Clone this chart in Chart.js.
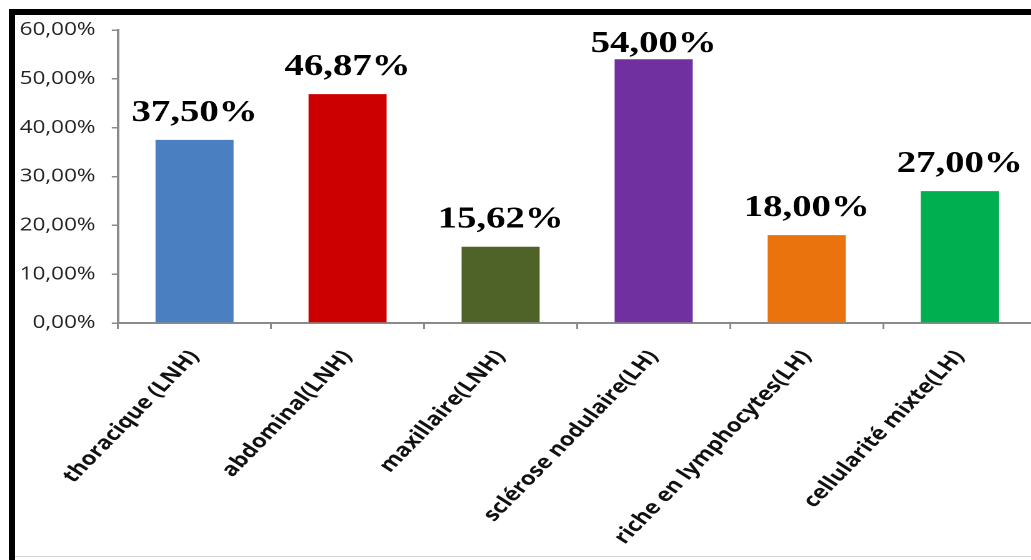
<!DOCTYPE html>
<html>
<head>
<meta charset="utf-8">
<script src="https://cdn.jsdelivr.net/npm/chart.js@4.4.1/dist/chart.umd.min.js"></script>
<style>
  html, body { margin: 0; padding: 0; background: #fff; overflow: hidden; width: 1031px; height: 560px; }
  #wrap { position: absolute; left: 0; top: 0; width: 832px; height: 560px; transform: scaleX(1.25); transform-origin: 0 0; }
  #frameTop { position: absolute; z-index: 100; left: 9px; top: 9px; width: 1022px; height: 6px; background: #000; }
  #frameLeft { position: absolute; z-index: 100; left: 9px; top: 9px; width: 6px; height: 551px; background: #000; }
  #frameBottom { position: absolute; z-index: 100; left: 15px; top: 556px; width: 1016px; height: 1px; background: #d4d4d4; }
</style>
</head>
<body>
<div id="wrap"><canvas id="c" width="832" height="560"></canvas></div>
<div id="frameTop"></div>
<div id="frameLeft"></div>
<div id="frameBottom"></div>
<script>
const categories = ['thoracique (LNH)', 'abdominal(LNH)', 'maxillaire(LNH)', 'sclérose nodulaire(LH)', 'riche en lymphocytes(LH)', 'cellularité mixte(LH)'];
const values = [37.50, 46.87, 15.62, 54.00, 18.00, 27.00];
const barColors = ['#4a7fc1', '#cc0000', '#4f6228', '#7030a0', '#ea730d', '#00b050'];
const yTickLabels = ['0,00%', '10,00%', '20,00%', '30,00%', '40,00%', '50,00%', '60,00%'];
const valueLabels = values.map(v => v.toFixed(2).replace('.', ',') + '%');

const labelPlugin = {
  id: 'valueLabels',
  afterDatasetsDraw(chart) {
    const ctx = chart.ctx;
    const meta = chart.getDatasetMeta(0);
    ctx.save();
    ctx.font = 'bold 31px "Liberation Serif", "Times New Roman", serif';
    ctx.fillStyle = '#000';
    ctx.textAlign = 'center';
    ctx.textBaseline = 'alphabetic';
    meta.data.forEach((bar, i) => {
      const y = Math.max(bar.y - 19, 52);
      ctx.fillText(valueLabels[i], bar.x, y);
    });
    ctx.restore();
  }
};

new Chart(document.getElementById('c'), {
  type: 'bar',
  data: {
    labels: categories,
    datasets: [{
      data: values,
      backgroundColor: barColors,
      borderWidth: 0,
      barPercentage: 0.51,
      categoryPercentage: 1.0
    }]
  },
  options: {
    responsive: false,
    devicePixelRatio: 2,
    animation: false,
    layout: { padding: { top: 30, left: 0, right: 3, bottom: 0 } },
    plugins: { legend: { display: false }, tooltip: { enabled: false } },
    scales: {
      x: {
        grid: { display: true, drawOnChartArea: false, drawTicks: true, tickLength: 6, color: '#8a8a8a', lineWidth: 1.5, offset: true },
        border: { display: true, color: '#8a8a8a', width: 2 },
        ticks: {
          minRotation: 51.5, maxRotation: 51.5, autoSkip: false,
          color: '#111',
          padding: 17,
          font: { family: '"Open Sans", sans-serif', size: 19, weight: '700' }
        },
        afterFit(scale) { scale.height = 237; }
      },
      y: {
        min: 0, max: 60,
        grid: { display: true, drawOnChartArea: false, drawTicks: true, tickLength: 5, color: '#8a8a8a', lineWidth: 1.5 },
        border: { display: true, color: '#8a8a8a', width: 2 },
        ticks: {
          stepSize: 10,
          padding: 13,
          color: '#222',
          font: { family: '"Open Sans", sans-serif', size: 18 },
          callback: (v, i) => yTickLabels[i]
        },
        afterFit(scale) { scale.width = 94.4; }
      }
    }
  },
  plugins: [labelPlugin]
});
</script>
</body>
</html>
